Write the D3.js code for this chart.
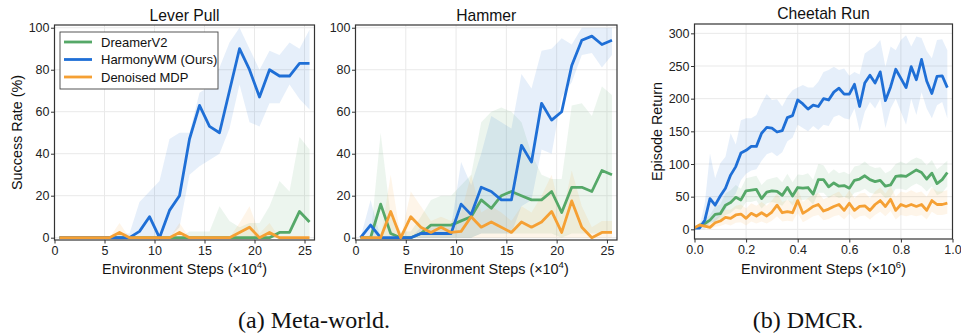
<!DOCTYPE html>
<html>
<head>
<meta charset="utf-8">
<script src="https://cdn.jsdelivr.net/npm/d3@7/dist/d3.min.js"></script>
<style>
  body { margin: 0; background: #fff; }
  svg { display: block; font-family: "Liberation Sans", Arial, Helvetica, sans-serif; }
  .tick text { font-size: 12.5px; fill: #222; }
  .tick line { stroke: #333; stroke-width: 1; }
</style>
</head>
<body>
<svg id="chart" width="961" height="333"></svg>
<script>
// ---- data ----
var seriesNames = ["DreamerV2", "HarmonyWM (Ours)", "Denoised MDP"];
var seriesColors = ["#55a868", "#1f6fd6", "#f5a034"];

// meta-world steps (x10^4)
var metaSteps = [0.5,1.5,2.5,3.5,4.5,5.5,6.5,7.5,8.5,9.5,10.5,11.5,12.5,13.5,14.5,15.5,16.5,17.5,18.5,19.5,20.5,21.5,22.5,23.5,24.5,25.5];
var metaZeros = [0,0,0,0,0,0,0,0,0,0,0,0,0,0,0,0,0,0,0,0,0,0,0,0,0,0];
var metaTicks = [0, 5, 10, 15, 20, 25];
var rateTicks = [0, 20, 40, 60, 80, 100];

// Lever Pull
var leverGreen   = [0,0,0,0,0,0,0,0,0,0,0,0,0,0,0,0,0,0,0,0,0,0,2.5,2.5,12.5,7.5];
var leverGreenHi = [0,0,0,0,0,0,0,0,0,0,0,0,0,3,3,3,15,8,5,7,7,15,27,22,48,42];
var leverBlue    = [0,0,0,0,0,0,0,0,3,10,0,13,20,47,63,53,50,70,90,80,67,80,77,77,83,83];
var leverBlueHi  = [0,0,0,0,0,0,2,2,17,22,27,47,50,50,69,72,81,93,100,90,80,89,87,93,90,99];
var leverBlueLo  = [0,0,0,0,0,0,0,0,0,0,0,0,5,30,34,37,40,52,73,55,53,64,64,73,66,61];
var leverOrange  = [0,0,0,0,0,0,2.5,0,0,0,0,0,2.5,0,0,0,0,0,2.5,5,0,2.5,0,0,0,0];
var leverOrangeHi= [0,0,0,0,0,0,7,0,0,0,0,0,7,0,0,0,0,0,7,15,2,7,0,0,0,0];

// Hammer
var hamGreen    = [0,0,16,2,0,0,2,6,6,6,8,10,18,14,20,22,20,18,18,22,12,24,24,22,32,30];
var hamGreenHi  = [0,0,50,10,3,3,10,18,20,20,25,30,55,60,62,60,55,40,30,28,28,63,64,58,72,68];
var hamGreenLo  = [0,0,0,0,0,0,0,0,0,0,0,0,2,2,2,2,2,2,2,2,0,2,2,2,2,2];
var hamBlue     = [0,6,0,0,0,0,2,2,2,2,16,11,24,22,18,18,44,36,64,56,60,82,94,96,92,94];
var hamBlueHi   = [0,18,0,0,0,0,5,5,5,5,36,25,40,58,55,52,78,71,89,90,95,92,100,100,100,100];
var hamBlueLo   = [0,0,0,0,0,0,0,0,0,0,0,0,2,2,2,2,15,18,42,40,67,74,87,88,81,87];
var hamOrange   = [0,0,0,12.5,0,10,5,2.5,5,2.5,3,10,5,7.5,5,2.5,7.5,5,7.5,12.5,2.5,17.5,5,0,2.5,2.5];
var hamOrangeHi = [0,0,0,30,0,22,15,8,10,8,12,30,12,15,12,8,15,12,20,30,10,32,15,5,8,8];

// Cheetah Run steps (x10^6)
var cheSteps = [0,0.02,0.04,0.06,0.08,0.1,0.12,0.14,0.16,0.18,0.2,0.22,0.24,0.26,0.28,0.3,0.32,0.34,0.36,0.38,0.4,0.42,0.44,0.46,0.48,0.5,0.52,0.54,0.56,0.58,0.6,0.62,0.64,0.66,0.68,0.7,0.72,0.74,0.76,0.78,0.8,0.82,0.84,0.86,0.88,0.9,0.92,0.94,0.96,0.98];
var cheXTicks = [0, 0.2, 0.4, 0.6, 0.8, 1.0];
var cheYTicks = [0, 50, 100, 150, 200, 250, 300];
var cheGreen   = [2,6,9,14,23,24,37,41,49,45,59,60,61,47,57,59,58,52,64,51,64,63,64,54,76,76,65,71,66,67,63,75,77,82,76,73,75,66,68,81,82,81,86,91,87,77,86,70,76,87];
var cheGreenHi = [4,10,15,22,35,38,55,60,68,62,78,80,82,68,76,78,80,72,85,72,84,83,86,76,100,98,85,92,86,88,84,96,98,104,97,94,95,86,90,100,104,100,106,110,107,98,106,92,98,105];
var cheGreenLo = [0,3,5,8,12,12,22,25,32,30,42,42,44,32,40,42,40,36,46,36,46,45,46,38,56,56,48,52,48,50,46,56,58,62,56,54,56,48,50,62,62,60,66,70,66,58,66,52,56,66];
var cheBlue    = [2,2,14,47,37,51,63,83,96,117,121,127,127,147,156,155,149,151,171,174,198,192,184,190,188,200,198,210,216,207,207,222,188,224,236,224,241,197,218,245,231,217,249,229,260,227,208,234,235,217];
var cheBlueHi  = [3,5,40,116,78,101,111,147,130,167,170,170,175,193,207,198,199,188,203,213,217,221,217,217,226,241,244,249,244,246,235,241,237,269,275,280,290,249,280,274,290,297,280,295,293,273,262,290,291,274];
var cheBlueLo  = [0,0,0,10,12,20,30,45,55,75,85,90,92,105,115,118,112,118,135,140,160,155,150,158,152,160,158,172,175,170,168,185,150,180,195,185,200,155,185,200,180,160,200,175,210,185,170,190,195,170];
var cheOrange  = [2.5,6.6,5,3,10,12.7,18.4,16.8,22,23.4,16.8,24.5,20.4,25.4,20.4,26.5,37,25.4,27,25.4,44,24.5,29.5,35,38,28,31,35,38,29,40,29,35,36,29,38,44,35,46,29,38,35,38,35,38,29,44,38,38,40];
var cheOrangeHi= [4,9,9,8,17,22,30,30,36,38,32,40,36,42,36,44,55,42,45,42,62,42,48,52,56,46,50,54,58,48,60,48,55,56,48,58,64,55,66,50,58,56,60,56,58,50,64,58,58,60];
var cheOrangeLo= [1,4,2,0,4,5,8,6,10,11,6,12,9,12,9,13,20,12,13,12,25,11,15,20,22,14,16,20,22,15,24,15,20,21,15,22,27,20,28,15,22,20,22,20,22,15,27,22,22,24];

var svg = d3.select("#chart");

function drawPanel(p) {
    var x = d3.scaleLinear().domain(p.xDomain).range([p.left, p.right]);
    var y = d3.scaleLinear().domain(p.yDomain).range([p.bottom, p.top]);
    var g = svg.append("g");

    var clipId = "clip-" + p.id;
    g.append("clipPath").attr("id", clipId)
        .append("rect")
        .attr("x", p.left).attr("y", p.top)
        .attr("width", p.right - p.left).attr("height", p.bottom - p.top);

    // grid
    g.selectAll(".gx").data(p.xTicks).enter().append("line")
        .attr("x1", function (d) { return x(d); }).attr("x2", function (d) { return x(d); })
        .attr("y1", p.top).attr("y2", p.bottom)
        .attr("stroke", "#e9e9e9").attr("stroke-width", 1);
    g.selectAll(".gy").data(p.yTicks).enter().append("line")
        .attr("y1", function (d) { return y(d); }).attr("y2", function (d) { return y(d); })
        .attr("x1", p.left).attr("x2", p.right)
        .attr("stroke", "#e9e9e9").attr("stroke-width", 1);

    var plot = g.append("g").attr("clip-path", "url(#" + clipId + ")");

    // shaded bands
    p.series.forEach(function (s, i) {
        var area = d3.area()
            .x(function (d, j) { return x(p.steps[j]); })
            .y0(function (d, j) { return y(s.lo[j]); })
            .y1(function (d, j) { return y(s.hi[j]); });
        plot.append("path")
            .attr("d", area(s.mean))
            .attr("fill", seriesColors[i])
            .attr("fill-opacity", 0.11);
    });

    // mean lines
    p.series.forEach(function (s, i) {
        var line = d3.line()
            .x(function (d, j) { return x(p.steps[j]); })
            .y(function (d) { return y(d); });
        plot.append("path")
            .attr("d", line(s.mean))
            .attr("fill", "none")
            .attr("stroke", seriesColors[i])
            .attr("stroke-width", 2.8)
            .attr("stroke-linejoin", "round");
    });

    // axes
    g.append("g")
        .attr("transform", "translate(0," + p.bottom + ")")
        .call(d3.axisBottom(x).tickValues(p.xTicks).tickSize(3.5).tickPadding(2.5).tickFormat(p.xFormat))
        .call(function (a) { a.select(".domain").remove(); });
    g.append("g")
        .attr("transform", "translate(" + p.left + ",0)")
        .call(d3.axisLeft(y).tickValues(p.yTicks).tickSize(3.5).tickPadding(1.5).tickFormat(d3.format("d")))
        .call(function (a) { a.select(".domain").remove(); });

    // frame
    g.append("rect")
        .attr("x", p.left).attr("y", p.top)
        .attr("width", p.right - p.left).attr("height", p.bottom - p.top)
        .attr("fill", "none").attr("stroke", "#333").attr("stroke-width", 1.2);

    // title
    g.append("text")
        .attr("x", (p.left + p.right) / 2).attr("y", p.titleY)
        .attr("text-anchor", "middle")
        .attr("font-size", 15.7).attr("fill", "#111")
        .text(p.title);

    // x label
    var xl = g.append("text")
        .attr("x", (p.left + p.right) / 2).attr("y", 273.5)
        .attr("text-anchor", "middle")
        .attr("font-size", 14.4).attr("fill", "#111");
    xl.append("tspan").text("Environment Steps (\u00d710");
    xl.append("tspan").attr("font-size", 9.5).attr("dy", -6).text(p.exp);
    xl.append("tspan").attr("dy", 6).text(")");

    // y label
    if (p.yLabel) {
        g.append("text")
            .attr("transform", "translate(" + p.yLabelX + "," + ((p.top + p.bottom) / 2) + ") rotate(-90)")
            .attr("text-anchor", "middle")
            .attr("font-size", 14.4).attr("fill", "#111")
            .text(p.yLabel);
    }
    return g;
}

var lever = drawPanel({
    id: "lever", title: "Lever Pull", titleY: 20.5, exp: "4",
    left: 54.5, right: 314.5, top: 25, bottom: 240,
    xDomain: [0, 26], yDomain: [-1.1, 101.3],
    xTicks: metaTicks, yTicks: rateTicks, xFormat: d3.format("d"),
    yLabel: "Success Rate (%)", yLabelX: 21.5,
    steps: metaSteps,
    series: [
        { mean: leverGreen, hi: leverGreenHi, lo: metaZeros },
        { mean: leverBlue, hi: leverBlueHi, lo: leverBlueLo },
        { mean: leverOrange, hi: leverOrangeHi, lo: metaZeros }
    ]
});

drawPanel({
    id: "hammer", title: "Hammer", titleY: 20.5, exp: "4",
    left: 355.5, right: 617, top: 25, bottom: 240,
    xDomain: [0, 26], yDomain: [-1.1, 101.3],
    xTicks: metaTicks, yTicks: rateTicks, xFormat: d3.format("d"),
    steps: metaSteps,
    series: [
        { mean: hamGreen, hi: hamGreenHi, lo: hamGreenLo },
        { mean: hamBlue, hi: hamBlueHi, lo: hamBlueLo },
        { mean: hamOrange, hi: hamOrangeHi, lo: metaZeros }
    ]
});

drawPanel({
    id: "cheetah", title: "Cheetah Run", titleY: 19, exp: "6",
    left: 694.5, right: 952.5, top: 24, bottom: 239,
    xDomain: [0, 1], yDomain: [-14.8, 314.3],
    xTicks: cheXTicks, yTicks: cheYTicks, xFormat: d3.format(".1f"),
    yLabel: "Episode Return", yLabelX: 662,
    steps: cheSteps,
    series: [
        { mean: cheGreen, hi: cheGreenHi, lo: cheGreenLo },
        { mean: cheBlue, hi: cheBlueHi, lo: cheBlueLo },
        { mean: cheOrange, hi: cheOrangeHi, lo: cheOrangeLo }
    ]
});

// legend in the Lever Pull panel
var legend = lever.append("g");
legend.append("rect")
    .attr("x", 60).attr("y", 32).attr("width", 158).attr("height", 57)
    .attr("fill", "#fff").attr("stroke", "#444").attr("stroke-width", 0.9);
seriesNames.forEach(function (name, i) {
    var ly = 42 + i * 17.5;
    legend.append("line")
        .attr("x1", 64).attr("x2", 92).attr("y1", ly).attr("y2", ly)
        .attr("stroke", seriesColors[i]).attr("stroke-width", 2.8);
    legend.append("text")
        .attr("x", 101).attr("y", ly).attr("dy", "0.36em")
        .attr("font-size", 13).attr("fill", "#111")
        .text(name);
});

// captions
svg.append("text")
    .attr("x", 314).attr("y", 328)
    .attr("text-anchor", "middle")
    .attr("font-family", "'Liberation Serif', 'Times New Roman', serif")
    .attr("font-size", 24).attr("fill", "#111")
    .text("(a) Meta-world.");
svg.append("text")
    .attr("x", 808).attr("y", 328)
    .attr("text-anchor", "middle")
    .attr("font-family", "'Liberation Serif', 'Times New Roman', serif")
    .attr("font-size", 24).attr("fill", "#111")
    .text("(b) DMCR.");
</script>
</body>
</html>
